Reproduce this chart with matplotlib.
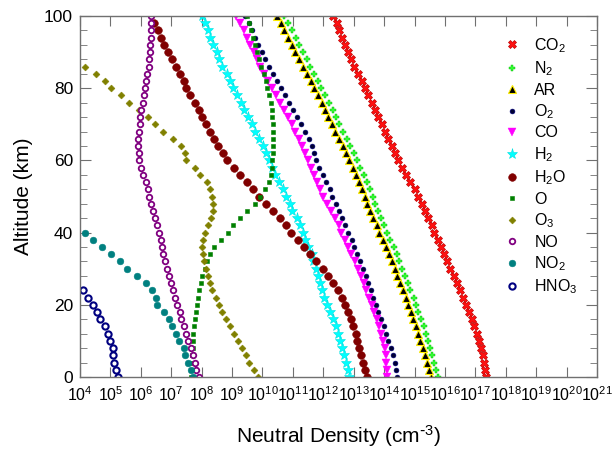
import matplotlib
matplotlib.use("Agg")
from matplotlib import pyplot as plt
from matplotlib.ticker import FixedLocator, MultipleLocator, LogFormatterSciNotation
import numpy as np

plt.rcParams["font.family"] = ["Liberation Sans", "DejaVu Sans"]
plt.rcParams["mathtext.default"] = "regular"

# altitude grid (km), one value per sample every 2 km
alt = np.arange(0, 102, 2)

# log10 of number density (cm^-3), listed from 0 km upward
co2 = [17.35, 17.32, 17.28, 17.24, 17.18, 17.11, 17.04, 16.96, 16.88, 16.78,
       16.68, 16.59, 16.50, 16.40, 16.29, 16.18, 16.08, 15.97, 15.87, 15.76,
       15.65, 15.56, 15.45, 15.34, 15.23, 15.11, 15.00, 14.86, 14.71, 14.59,
       14.47, 14.36, 14.25, 14.14, 14.03, 13.92, 13.81, 13.70, 13.59, 13.48,
       13.37, 13.26, 13.15, 13.02, 12.91, 12.82, 12.71, 12.61, 12.53, 12.44,
       12.33]
n2 = [15.78, 15.71, 15.65, 15.59, 15.52, 15.44, 15.37, 15.30, 15.21, 15.12,
      15.05, 14.97, 14.86, 14.77, 14.68, 14.60, 14.50, 14.41, 14.31, 14.20,
      14.09, 14.00, 13.89, 13.80, 13.70, 13.62, 13.52, 13.43, 13.33, 13.22,
      13.11, 13.00, 12.89, 12.77, 12.64, 12.53, 12.42, 12.31, 12.20, 12.07,
      11.94, 11.83, 11.70, 11.57, 11.45, 11.33, 11.21, 11.09, 10.97, 10.85,
      10.72]
ar = [15.53, 15.46, 15.40, 15.34, 15.27, 15.19, 15.12, 15.05, 14.96, 14.87,
      14.80, 14.72, 14.61, 14.52, 14.43, 14.35, 14.25, 14.16, 14.06, 13.95,
      13.84, 13.75, 13.64, 13.55, 13.45, 13.37, 13.27, 13.18, 13.08, 12.97,
      12.86, 12.75, 12.64, 12.52, 12.39, 12.28, 12.17, 12.06, 11.95, 11.82,
      11.69, 11.58, 11.45, 11.32, 11.20, 11.08, 10.96, 10.84, 10.72, 10.60,
      10.47]
o2 = [14.43, 14.39, 14.35, 14.29, 14.22, 14.14, 14.07, 14.00, 13.90, 13.81,
      13.73, 13.64, 13.56, 13.48, 13.40, 13.32, 13.21, 13.12, 13.02, 12.93,
      12.82, 12.71, 12.61, 12.52, 12.41, 12.30, 12.22, 12.09, 11.99, 11.86,
      11.76, 11.70, 11.62, 11.52, 11.40, 11.27, 11.13, 11.01, 10.87, 10.74,
      10.61, 10.47, 10.36, 10.20, 10.07, 9.97, 9.86, 9.75, 9.66, 9.55,
      9.43]
co = [14.10, 14.09, 14.07, 14.05, 14.02, 13.96, 13.91, 13.83, 13.75, 13.68,
      13.59, 13.50, 13.42, 13.33, 13.25, 13.14, 13.03, 12.92, 12.81, 12.70,
      12.59, 12.50, 12.37, 12.25, 12.12, 11.99, 11.88, 11.79, 11.70, 11.60,
      11.50, 11.40, 11.31, 11.20, 11.08, 10.96, 10.83, 10.70, 10.57, 10.44,
      10.32, 10.19, 10.06, 9.93, 9.82, 9.71, 9.60, 9.49, 9.38, 9.27,
      9.14]
h2 = [12.85, 12.80, 12.74, 12.69, 12.63, 12.55, 12.47, 12.41, 12.33, 12.22,
      12.11, 12.03, 11.97, 11.89, 11.81, 11.75, 11.67, 11.62, 11.51, 11.41,
      11.32, 11.22, 11.13, 10.98, 10.90, 10.78, 10.68, 10.54, 10.41, 10.32,
      10.22, 10.11, 10.03, 9.89, 9.75, 9.65, 9.51, 9.40, 9.29, 9.15,
      9.04, 8.93, 8.82, 8.68, 8.57, 8.49, 8.38, 8.27, 8.20, 8.11,
      8.00]
# H2O stops at 98 km
h2o = [13.43, 13.37, 13.29, 13.23, 13.16, 13.12, 13.06, 12.97, 12.90, 12.82,
       12.73, 12.61, 12.48, 12.33, 12.15, 11.99, 11.77, 11.57, 11.35, 11.17,
       10.95, 10.77, 10.58, 10.36, 10.12, 9.90, 9.70, 9.50, 9.27, 9.07,
       8.84, 8.71, 8.55, 8.40, 8.27, 8.15, 8.02, 7.90, 7.78, 7.63,
       7.50, 7.41, 7.30, 7.17, 7.04, 6.90, 6.76, 6.67, 6.57, 6.43]
o = [7.64, 7.66, 7.67, 7.69, 7.71, 7.72, 7.73, 7.75, 7.77, 7.80,
     7.85, 7.88, 7.92, 7.97, 8.02, 8.10, 8.18, 8.26, 8.42, 8.65,
     8.86, 9.03, 9.26, 9.50, 9.74, 9.91, 10.08, 10.20, 10.27, 10.31,
     10.32, 10.33, 10.33, 10.33, 10.33, 10.33, 10.32, 10.31, 10.28, 10.23,
     10.16, 10.10, 10.04, 9.96, 9.90, 9.81, 9.76, 9.70, 9.63, 9.57,
     9.50]
# O3 stops at 86 km
o3 = [9.84, 9.71, 9.56, 9.45, 9.34, 9.21, 9.07, 8.93, 8.79, 8.68,
      8.57, 8.46, 8.35, 8.27, 8.21, 8.15, 8.09, 8.03, 8.02, 8.05,
      8.12, 8.21, 8.30, 8.37, 8.38, 8.35, 8.29, 8.16, 7.95, 7.77,
      7.50, 7.46, 7.31, 7.05, 6.74, 6.48, 6.24, 5.95, 5.60, 5.34,
      5.03, 4.81, 4.54, 4.17]
no = [7.90, 7.82, 7.77, 7.72, 7.64, 7.55, 7.50, 7.42, 7.33, 7.28,
      7.20, 7.13, 7.06, 7.00, 6.92, 6.85, 6.81, 6.74, 6.70, 6.65,
      6.59, 6.52, 6.46, 6.40, 6.35, 6.28, 6.24, 6.17, 6.08, 6.02,
      5.95, 5.93, 5.91, 5.91, 5.93, 5.96, 5.98, 6.02, 6.06, 6.10,
      6.13, 6.18, 6.21, 6.26, 6.28, 6.29, 6.30, 6.32, 6.32, 6.34,
      6.32]
# NO2 stops at 40 km, HNO3 at 24 km
no2 = [7.72, 7.66, 7.55, 7.44, 7.42, 7.24, 7.17, 7.04, 6.92, 6.76,
       6.52, 6.50, 6.38, 6.17, 5.87, 5.56, 5.32, 5.03, 4.73, 4.43,
       4.17]
hno3 = [5.26, 5.18, 5.12, 5.08, 5.07, 5.00, 4.93, 4.81, 4.66, 4.56,
        4.42, 4.26, 4.09]

labels = ["CO$_2$", "N$_2$", "AR", "O$_2$", "CO", "H$_2$", "H$_2$O", "O",
          "O$_3$", "NO", "NO$_2$", "HNO$_3$"]
series = [co2, n2, ar, o2, co, h2, h2o, o, o3, no, no2, hno3]
styles = [
    dict(marker="X", ms=6, mfc="#ff1010", mec="#c00000", mew=0.5),
    dict(marker="P", ms=5, mfc="#33ff33", mec="#00b000", mew=0.3),
    dict(marker="^", ms=5.5, mfc="black", mec="#ffee00", mew=0.8),
    dict(marker="o", ms=3.5, mfc="#000033", mec="#000080", mew=0.4),
    dict(marker="v", ms=5.5, mfc="#ff00ff", mec="#ff00ff", mew=0.3),
    dict(marker="*", ms=8, mfc="#00ffff", mec="#00e0e0", mew=0.4),
    dict(marker="o", ms=5.5, mfc="#800000", mec="#800000", mew=0.4),
    dict(marker="s", ms=3.5, mfc="#008000", mec="#008000", mew=0.4),
    dict(marker="D", ms=3.5, mfc="#808000", mec="#808000", mew=0.4),
    dict(marker="o", ms=4, mfc="white", mec="#800080", mew=1.3),
    dict(marker="o", ms=4.8, mfc="#008080", mec="#008080", mew=0.4),
    dict(marker="o", ms=4.5, mfc="white", mec="#000080", mew=1.5),
]

fig = plt.figure(figsize=(6.15, 4.51), dpi=100)
ax = fig.add_axes([80 / 615, 1 - 377 / 451, 517 / 615, 361 / 451])

for vals, lab, st in zip(series, labels, styles):
    v = np.array(vals)
    ax.plot(10.0 ** v, alt[:len(v)], ls="none", label=lab, **st)

ax.set_xscale("log")
ax.set_xlim(1e4, 1e21)
ax.set_ylim(0, 100)
ax.xaxis.set_major_locator(FixedLocator(10.0 ** np.arange(4, 22)))
ax.xaxis.set_major_formatter(LogFormatterSciNotation())
ax.xaxis.set_minor_locator(FixedLocator([]))
ax.yaxis.set_major_locator(MultipleLocator(20))
ax.yaxis.set_minor_locator(MultipleLocator(4))

frame = "#707070"
for s in ax.spines.values():
    s.set_color(frame)
    s.set_linewidth(1.0)
ax.tick_params(which="both", direction="in", top=True, right=True,
               color=frame, labelsize=12.5)
ax.tick_params(axis="x", which="major", length=7, pad=6, labelsize=11.5)
ax.tick_params(axis="y", which="major", length=8, pad=5)
ax.tick_params(axis="y", which="minor", length=5)

ax.set_xlabel("Neutral Density (cm$^{\\text{-}3}$)", fontsize=15, labelpad=14)
ax.set_ylabel("Altitude (km)", fontsize=15, labelpad=8)

ax.legend(loc="upper left", bbox_to_anchor=(0.82, 0.945), frameon=False,
          fontsize=11.5, handlelength=1.0, handletextpad=0.9,
          labelspacing=0.29, borderaxespad=0, borderpad=0)

fig.savefig("out.png", dpi=100)
